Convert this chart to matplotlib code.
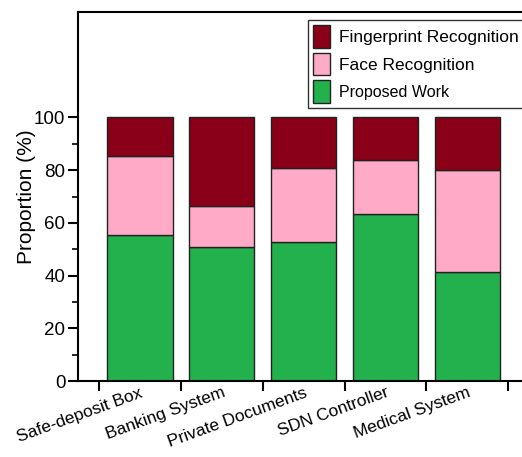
import matplotlib
matplotlib.use('Agg')
from matplotlib import pyplot as plt
from matplotlib import font_manager
import numpy as np

# pick a narrow sans if present
names = set(f.name for f in font_manager.fontManager.ttflist)
fam = 'Liberation Sans Narrow' if 'Liberation Sans Narrow' in names else 'Liberation Sans'
plt.rcParams['font.family'] = fam

systems = ['Safe-deposit Box', 'Banking System', 'Private Documents',
           'SDN Controller', 'Medical System']
proposed = [55.5, 50.7, 52.8, 63.5, 41.2]
face = [30.0, 15.8, 28.2, 20.2, 39.0]
finger = [14.5, 33.5, 19.0, 16.3, 19.8]

red = '#8a0018'
pink = '#ffabc8'
green = '#22b14c'

fig = plt.figure(figsize=(5.22, 4.57), dpi=100)
ax = fig.add_axes([0.1494, 0.1663, 0.865, 0.8074])

x = np.arange(len(systems))
w = 0.8
b1 = ax.bar(x, proposed, w, color=green, edgecolor='#222222', linewidth=1)
b2 = ax.bar(x, face, w, bottom=proposed, color=pink, edgecolor='#222222', linewidth=1)
b3 = ax.bar(x, finger, w, bottom=np.add(proposed, face), color=red,
            edgecolor='#222222', linewidth=1)

ax.set_xlim(-0.756, 4.76)
ax.set_ylim(0, 140)
ax.set_yticks([0, 20, 40, 60, 80, 100])
ax.set_yticks([10, 30, 50, 70, 90], minor=True)
ax.set_xticks(x)
ax.set_xticklabels(systems, rotation=20, ha='right', rotation_mode='anchor',
                   fontsize=12.5)
ax.set_xticks(np.arange(-0.5, 5, 1), minor=True)
ax.tick_params(axis='x', which='major', length=0, pad=3)
ax.tick_params(axis='x', which='minor', length=7, width=1.5, direction='out')
ax.tick_params(axis='y', which='major', length=7, width=1.5, labelsize=13.5, pad=2)
ax.tick_params(axis='y', which='minor', length=4, width=1.2)
for s in ax.spines.values():
    s.set_linewidth(1.5)
ax.set_ylabel('Proportion (%)', fontsize=15, labelpad=-1)

leg = ax.legend([b3, b2, b1], ['Fingerprint Recognition', 'Face Recognition', 'Proposed Work'],
                loc='upper left', bbox_to_anchor=(0.509, 0.978), fontsize=12.5,
                frameon=True, fancybox=False, edgecolor='black',
                handlelength=1.0, handleheight=1.6, handletextpad=0.5,
                labelspacing=0.3, borderpad=0.3, borderaxespad=0)
leg.get_frame().set_linewidth(1.0)
leg.get_texts()[2].set_fontsize(11.5)

fig.savefig('out.png', dpi=100)
